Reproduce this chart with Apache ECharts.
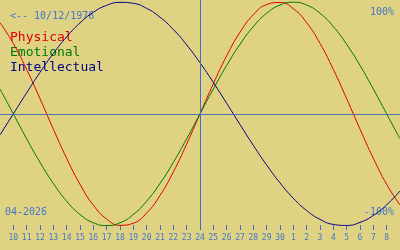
<!DOCTYPE html>
<html>
<head>
<meta charset="utf-8">
<script src="https://cdn.jsdelivr.net/npm/echarts@6/dist/echarts.min.js"></script>
<style>
html,body{margin:0;padding:0;background:#E0D283;}
#c{width:400px;height:250px;}
</style>
</head>
<body>
<div id="c"></div>
<script>
// Day labels from 9 Apr 2026 to 9 May 2026 (center = 24 Apr)
const days = ['9','10','11','12','13','14','15','16','17','18','19','20','21','22','23','24','25','26','27','28','29','30','1','2','3','4','5','6','7','8','9'];
// Values in percent
const physical = [81.7,63.1,39.8,13.6,-13.6,-39.8,-63.1,-81.7,-94.2,-99.8,-97.9,-88.8,-73.1,-52.0,-27.0,0,27.0,52.0,73.1,88.8,97.9,99.8,94.2,81.7,63.1,39.8,13.6,-13.6,-39.8,-63.1,-81.7];
const emotional = [22.3,0,-22.3,-43.4,-62.3,-78.2,-90.1,-97.5,-100,-97.5,-90.1,-78.2,-62.3,-43.4,-22.3,0,22.3,43.4,62.3,78.2,90.1,97.5,100,97.5,90.1,78.2,62.3,43.4,22.3,0,-22.3];
const intellectual = [-18.9,0,18.9,37.2,54.1,69.0,81.5,91.0,97.2,99.9,99.0,94.5,86.6,75.6,61.8,45.8,28.2,9.5,-9.5,-28.2,-45.8,-61.8,-75.6,-86.6,-94.5,-99.0,-99.9,-97.2,-91.0,-81.5,-69.0];
const centerDay = '24';
const birthText = '<-- 10/12/1976';
const monthText = '04-2026';
const topLabel = '100%';
const bottomLabel = '-100%';
const names = ['Physical','Emotional','Intellectual'];

const mono = '"DejaVu Sans Mono", monospace';
const blue = '#4477CC';
const colors = ['#DD0000','#007700','#000088'];
const centerIdx = days.indexOf(centerDay, 10);
const last = days.length - 1;

const chart = echarts.init(document.getElementById('c'));
const mk = (name, data, color, extra) => Object.assign({
  name, type:'line', data, smooth:true, symbol:'none',
  lineStyle:{color, width:1}, itemStyle:{color}, z:3, silent:true, animation:false
}, extra||{});

chart.setOption({
  backgroundColor:'#E0D283',
  animation:false,
  grid:{left:0,right:0,top:0,bottom:20, containLabel:false, outerBoundsMode:'none'},
  xAxis:{
    type:'category', data:days, boundaryGap:false,
    axisLine:{show:false, onZero:false},
    axisTick:{show:true, length:5, inside:true, lineStyle:{color:'#3A6FC8'},
      interval:(i)=> i>0 && i<last},
    axisLabel:{interval:(i)=> i>0 && i<last, margin:4, hideOverlap:false,
      fontFamily:mono, fontSize:8, color:blue},
    splitLine:{show:false}
  },
  yAxis:{type:'value', min:-104, max:102, show:false, splitLine:{show:false}},
  series:[
    mk(names[0], physical, colors[0], {
      markLine:{silent:true, symbol:'none', label:{show:false}, animation:false,
        data:[
          {yAxis:0, lineStyle:{color:'#4A72A8', width:1, type:'solid'}},
          {xAxis:centerIdx, lineStyle:{color:'#3A70D0', width:1, type:'solid'}}
        ]}
    }),
    mk(names[1], emotional, colors[1]),
    mk(names[2], intellectual, colors[2])
  ],
  graphic:[
    {type:'text', x:10, y:16.5, style:{text:birthText, font:'10px '+mono, fill:blue, verticalAlign:'middle'}},
    {type:'text', x:10, y:38, style:{text:names[0], font:'13px '+mono, fill:colors[0], verticalAlign:'middle'}},
    {type:'text', x:10, y:53, style:{text:names[1], font:'13px '+mono, fill:colors[1], verticalAlign:'middle'}},
    {type:'text', x:10, y:68, style:{text:names[2], font:'13px '+mono, fill:colors[2], verticalAlign:'middle'}},
    {type:'text', x:394, y:12, style:{text:topLabel, font:'10px '+mono, fill:blue, align:'right', verticalAlign:'middle'}},
    {type:'text', x:394, y:212, style:{text:bottomLabel, font:'10px '+mono, fill:blue, align:'right', verticalAlign:'middle'}},
    {type:'text', x:5, y:212, style:{text:monthText, font:'10px '+mono, fill:blue, verticalAlign:'middle'}}
  ]
});
</script>
</body>
</html>
